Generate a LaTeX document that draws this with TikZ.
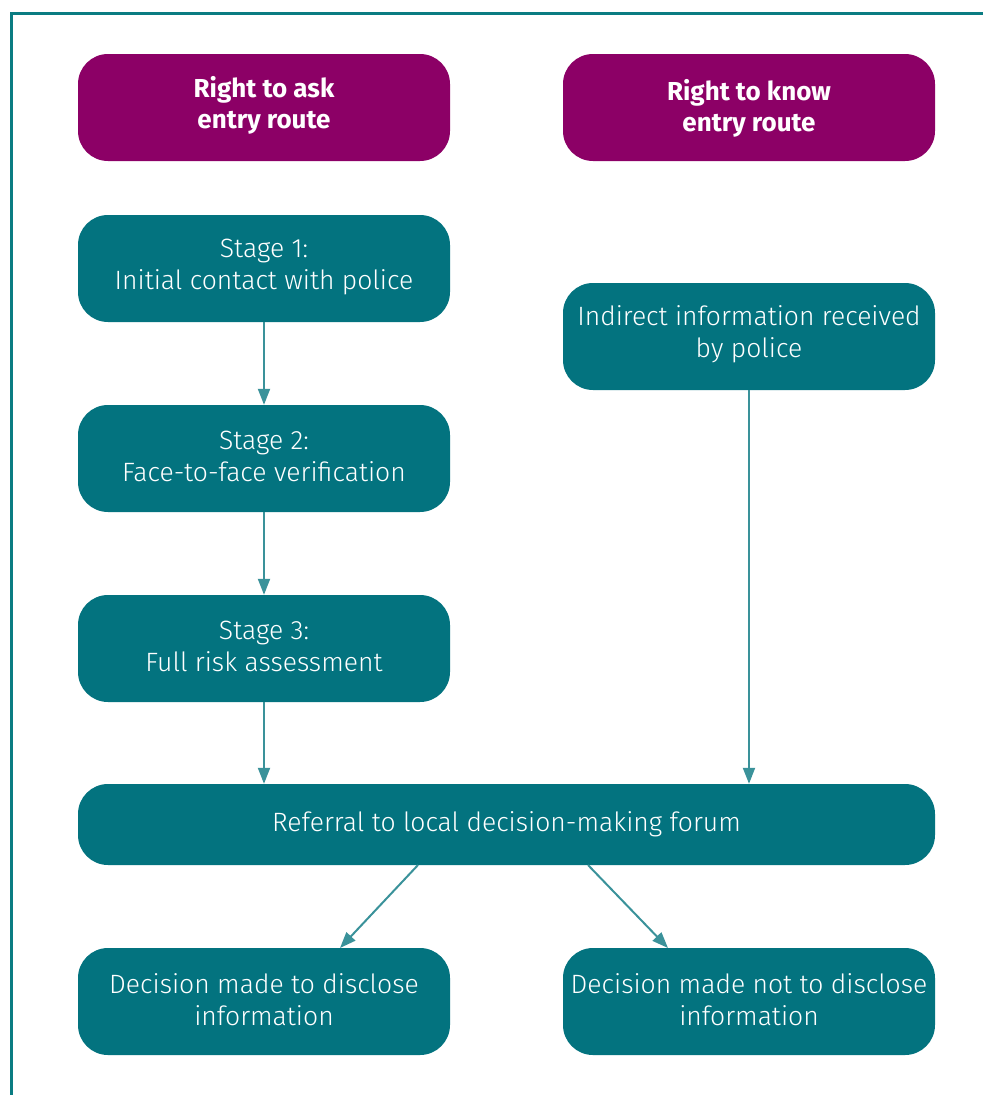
\documentclass[tikz,border=0pt]{standalone}
\usepackage{fontspec}
\setmainfont{Fira Sans}[UprightFont={* Light}, BoldFont={* Bold}]
\usetikzlibrary{arrows.meta}
\definecolor{teal1}{HTML}{03737F}
\definecolor{tealarrow}{HTML}{3A929A}
\definecolor{purp}{HTML}{8C0066}
\definecolor{frame}{HTML}{0A7C82}
\tikzset{
  box/.style={fill=teal1, rounded corners=30pt, inner sep=0pt,
    minimum width=372pt, minimum height=107pt},
  headbox/.style={box, fill=purp},
  txt/.style={text=white, align=center, inner sep=0pt,
    font=\fontsize{26.5}{32}\selectfont},
  headtxt/.style={txt, font=\fontsize{26}{31}\selectfont\bfseries},
  arr/.style={draw=tealarrow, line width=2pt, -{Triangle[length=16pt,width=12pt]}},
}
\begin{document}
\begin{tikzpicture}[x=1pt,y=-1pt]
\useasboundingbox (0,0) rectangle (983,1095);
\draw[frame, line width=3pt] (11,1095) -- (11,13) -- (983,13);
\node[headbox] (ask) at (264,107.5) {};
\node[headbox] (know) at (749,107.5) {};
\node[headtxt] at ([yshift=2pt]ask.center) {Right to ask\\entry route};
\node[headtxt] at ([yshift=-1pt]know.center) {Right to know\\entry route};
\node[box] (s1) at (264,268.5) {};
\node[box] (ind) at (749,336.5) {};
\node[box] (s2) at (264,458.5) {};
\node[box] (s3) at (264,648.5) {};
\node[box, minimum width=857pt, minimum height=81pt] (ref) at (506.5,824.5) {};
\node[box] (yes) at (264,1001.5) {};
\node[box] (no) at (749,1001.5) {};
\node[txt] at ([yshift=2pt]s1.center) {Stage 1:\\Initial contact with police};
\node[txt] at ([yshift=2pt]ind.center) {Indirect information received\\by police};
\node[txt] at ([yshift=2pt]s2.center) {Stage 2:\\Face-to-face verification};
\node[txt] at ([yshift=2pt]s3.center) {Stage 3:\\Full risk assessment};
\node[txt] at (ref.center) {Referral to local decision-making forum};
\node[txt] at ([yshift=2pt]yes.center) {Decision made to disclose\\information};
\node[txt] at ([yshift=2pt]no.center) {Decision made not to disclose\\information};
\draw[arr] (s1.south) -- (s2.north);
\draw[arr] (s2.south) -- (s3.north);
\draw[arr] (s3.south) -- (s3.south |- ref.north);
\draw[arr] (ind.south) -- (ind.south |- ref.north);
\coordinate (r1) at (418,865);
\coordinate (r2) at (588,865);
\coordinate (d1) at (340,948);
\coordinate (d2) at (668,948);
\draw[arr] (r1) -- (d1);
\draw[arr] (r2) -- (d2);
\end{tikzpicture}
\end{document}
